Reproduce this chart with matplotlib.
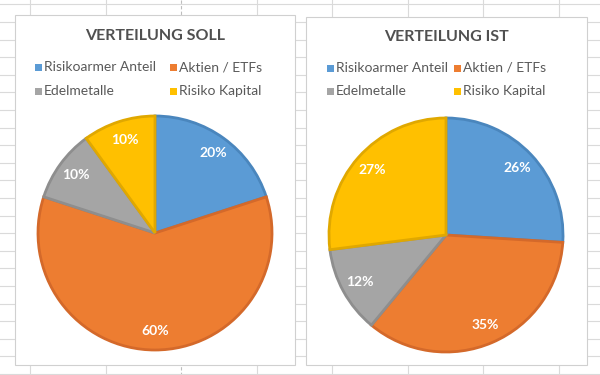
import matplotlib
matplotlib.use("Agg")
import matplotlib.pyplot as plt
from matplotlib.patches import Rectangle

# ── data ──
CATEGORIES = ["Risikoarmer Anteil", "Aktien / ETFs", "Edelmetalle", "Risiko Kapital"]
SOLL = [20, 60, 10, 10]
IST = [26, 35, 12, 27]
TITLES = ["VERTEILUNG SOLL", "VERTEILUNG IST"]

# ── style ──
COLORS = ["#5B9BD5", "#ED7D31", "#A5A5A5", "#FFC000"]
EDGES = ["#4A86BD", "#D4692A", "#8E8E8E", "#E0A800"]
TEXT = "#595959"
GRID = "#DADADA"
FONT = ["Lato", "DejaVu Sans"]

W, H = 600, 375
fig = plt.figure(figsize=(W / 100, H / 100), dpi=100)
fig.patch.set_facecolor("white")

# spreadsheet background in pixel coordinates
bg = fig.add_axes([0, 0, 1, 1])
bg.set_xlim(0, W)
bg.set_ylim(H, 0)
bg.axis("off")
for x in [30, 106, 257, 332, 408, 483, 559]:
    bg.plot([x, x], [0, H], color=GRID, lw=0.8, zorder=0)
bg.plot([181, 181], [0, H], color="#BDBDBD", lw=0.8, ls=(0, (3, 2)), zorder=0)
y = 4.4
while y < H:
    bg.plot([0, W], [y, y], color=GRID, lw=0.8, zorder=0)
    y += 17.6

# chart panels: (left, top, right, bottom), pie centre, legend x positions
panels = [
    dict(box=(15, 15, 295, 365), cx=155, cy=233, tx=155, ty=36,
         lx=[38, 173], ly=[67, 91], data=SOLL, title=TITLES[0]),
    dict(box=(306, 17, 587, 365), cx=446, cy=235, tx=446, ty=37,
         lx=[330, 457], ly=[68, 91], data=IST, title=TITLES[1]),
]
R = 117

for p in panels:
    l, t, r, b = p["box"]
    bg.add_patch(Rectangle((l, t), r - l, b - t, facecolor="white",
                           edgecolor="#D0D0D0", lw=0.8, zorder=1))
    bg.text(p["tx"], p["ty"], p["title"], ha="center", va="center",
            fontsize=11.5, fontweight="bold", color="#505050", family=FONT, zorder=3)
    for i, name in enumerate(CATEGORIES):
        mx = p["lx"][i % 2]
        my = p["ly"][i // 2]
        bg.add_patch(Rectangle((mx - 3.5, my - 3.5), 7, 7, facecolor=COLORS[i],
                               edgecolor="none", zorder=3))
        bg.text(mx + 6, my, name, ha="left", va="center", fontsize=10,
                color=TEXT, family=FONT, zorder=3)

    ax = fig.add_axes([(p["cx"] - R) / W, (H - p["cy"] - R) / H, 2 * R / W, 2 * R / H])
    wedges, texts, autotexts = ax.pie(
        p["data"], colors=COLORS, startangle=90, counterclock=False,
        autopct="%.0f%%", pctdistance=0.84,
        wedgeprops=dict(linewidth=2, antialiased=True),
        textprops=dict(color="white", fontsize=10, fontweight="bold", family=FONT))
    for w, ec in zip(wedges, EDGES):
        w.set_edgecolor(ec)
        w.set_clip_on(False)
    ax.set_xlim(-1, 1)
    ax.set_ylim(-1, 1)
    ax.set_aspect("equal")
    ax.axis("off")

fig.savefig("out.png", dpi=100)
